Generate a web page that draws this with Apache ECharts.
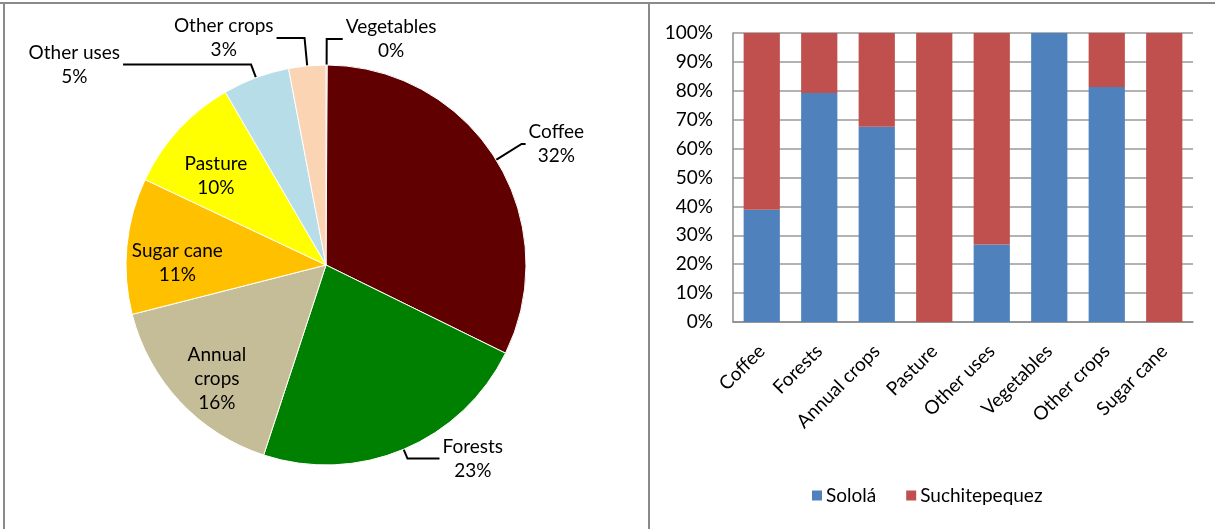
<!DOCTYPE html>
<html>
<head>
<meta charset="utf-8">
<script src="https://cdn.jsdelivr.net/npm/echarts@6/dist/echarts.min.js"></script>
<style>
html,body{margin:0;padding:0;background:#fff;}
#c{width:1215px;height:529px;}
</style>
</head>
<body>
<div id="c"></div>
<script>
// Pie (land use shares), clockwise from 12 o'clock
const pieNames = ['Vegetables','Coffee','Forests','Annual crops','Sugar cane','Pasture','Other uses','Other crops'];
const pieValues = [0.1, 32.2, 22.8, 16.0, 11.0, 9.6, 5.4, 3.0];
const pieColors = ['#C0504D','#600000','#008000','#C4BD97','#FFC000','#FFFF00','#B7DDE8','#FBD4B4'];
const pieLabelNames = {'Annual crops':'Annual\ncrops'};
const insideLabels = ['Annual crops','Sugar cane','Pasture'];

// Stacked 100% bars
const barCategories = ['Coffee','Forests','Annual crops','Pasture','Other uses','Vegetables','Other crops','Sugar cane'];
const solola = [38.8, 79.2, 67.6, 0, 26.8, 100, 81.3, 0];
const suchitepequez = [61.2, 20.8, 32.4, 100, 73.2, 0, 18.7, 100];
const yTicks = [0,10,20,30,40,50,60,70,80,90,100];

const FONT = 'Lato';
const FS = 19;
const chart = echarts.init(document.getElementById('c'));

const outsideCfg = {
  'Vegetables':  {length: 26, length2: 16},
  'Coffee':      {length: 30, length2: 4},
  'Forests':     {length: 10, length2: 32},
  'Other uses':  {length: 14, length2: 128},
  'Other crops': {length: 28, length2: 28}
};

const PIE_CX = 326, PIE_CY = 265, PIE_R = 200;

const pieData = pieNames.map((n, i) => {
  const inside = insideLabels.indexOf(n) >= 0;
  const d = {
    name: n, value: pieValues[i],
    itemStyle: {color: pieColors[i]},
    label: {position: inside ? 'inside' : 'outside'}
  };
  if (!inside) {
    d.labelLine = {show: true, length: outsideCfg[n].length, length2: outsideCfg[n].length2};
  } else {
    d.labelLine = {show: false};
  }
  return d;
});

const option = {
  backgroundColor: '#fff',
  animation: false,
  textStyle: {fontFamily: FONT},
  graphic: [
    {type: 'line', shape: {x1: 0, y1: 3, x2: 1215, y2: 3}, style: {stroke: '#8a8a8a', lineWidth: 2}},
    {type: 'line', shape: {x1: 4, y1: 3, x2: 4, y2: 529}, style: {stroke: '#8a8a8a', lineWidth: 2}},
    {type: 'line', shape: {x1: 649, y1: 3, x2: 649, y2: 529}, style: {stroke: '#8a8a8a', lineWidth: 2}}
  ],
  legend: {
    data: ['Sololá','Suchitepequez'],
    left: 807, top: 481,
    icon: 'rect', itemWidth: 10, itemHeight: 10, itemGap: 30,
    textStyle: {fontFamily: FONT, fontSize: FS, color: '#000', padding: [0,0,0,-1]}
  },
  grid: {left: 733, right: 22, top: 33, bottom: 207, containLabel: false},
  xAxis: {
    type: 'category', data: barCategories,
    axisLine: {lineStyle: {color: '#8c8c8c', width: 1.5}},
    axisTick: {show: false},
    axisLabel: {rotate: 45, margin: 26, fontFamily: FONT, fontSize: FS, color: '#000'}
  },
  yAxis: {
    type: 'value', min: 0, max: 100, interval: 10,
    axisLine: {show: true, lineStyle: {color: '#8c8c8c', width: 1.5}},
    axisTick: {show: false},
    splitLine: {lineStyle: {color: '#999999', width: 1.5}},
    axisLabel: {formatter: '{value}%', margin: 20, fontFamily: FONT, fontSize: FS, color: '#000'}
  },
  series: [
    {
      type: 'pie',
      center: [PIE_CX, PIE_CY],
      radius: PIE_R,
      startAngle: 90,
      clockwise: true,
      avoidLabelOverlap: false,
      data: pieData,
      itemStyle: {borderColor: '#fff', borderWidth: 1},
      label: {
        show: true,
        fontFamily: FONT, fontSize: FS, color: '#000', lineHeight: 24,
        distanceToLabelLine: 3,
        formatter: p => {
          const n = pieLabelNames[p.name] || p.name;
          return n.split('\n').map(s => '{t|' + s + '}').join('\n') + '\n{t|' + Math.round(p.percent) + '%}';
        },
        rich: {t: {fontFamily: FONT, fontSize: FS, color: '#000', align: 'center', lineHeight: 24}}
      },
      labelLine: {lineStyle: {color: '#000', width: 2}, smooth: false},
      labelLayout: function (p) {
        const name = pieNames[p.dataIndex];
        if (insideLabels.indexOf(name) >= 0) {
          const lx = p.labelRect.x + p.labelRect.width / 2;
          const ly = p.labelRect.y + p.labelRect.height / 2;
          return {dx: (lx - PIE_CX) * 0.45, dy: (ly - PIE_CY) * 0.45 + 12};
        }
        return {};
      }
    },
    {
      name: 'Sololá', type: 'bar', stack: 'total', data: solola,
      barCategoryGap: '37%',
      itemStyle: {color: '#4F81BD'}
    },
    {
      name: 'Suchitepequez', type: 'bar', stack: 'total', data: suchitepequez,
      barCategoryGap: '37%',
      itemStyle: {color: '#C0504D'}
    }
  ]
};
chart.setOption(option);
</script>
</body>
</html>
